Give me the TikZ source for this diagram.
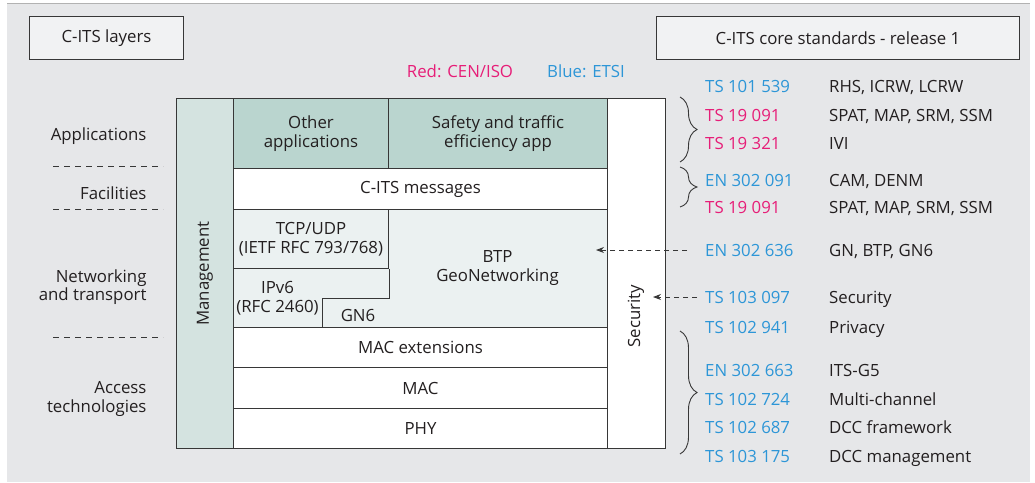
\documentclass[tikz,border=0pt]{standalone}
\usepackage{fontspec}
\setmainfont{Open Sans}
\usetikzlibrary{positioning,decorations.pathreplacing,arrows.meta}
\definecolor{bgc}{RGB}{230,231,233}
\definecolor{hdc}{RGB}{241,242,243}
\definecolor{appc}{RGB}{186,213,207}
\definecolor{mgc}{RGB}{212,227,224}
\definecolor{netc}{RGB}{235,241,241}
\definecolor{redc}{RGB}{230,30,120}
\definecolor{bluec}{RGB}{45,150,215}
\definecolor{linec}{RGB}{55,55,55}
\definecolor{txtc}{RGB}{35,31,32}

\begin{document}
\begin{tikzpicture}[x=1pt,y=-1pt,font=\fontsize{16.8}{18.5}\selectfont,text=txtc,
  box/.style={draw=linec,line width=1pt,anchor=north west,inner sep=0pt,align=center},
  sep/.style={draw=linec,line width=0.8pt,dash pattern=on 6pt off 5pt},
  code/.style={anchor=west,inner sep=0pt,text height=12pt,text depth=0pt},
  brc/.style={draw=linec,line width=0.9pt,decorate,decoration={brace,amplitude=17pt}},
  ptr/.style={draw=linec,line width=0.9pt,dash pattern=on 5pt off 4pt,-{Stealth[length=8pt,width=6pt]}}]

\useasboundingbox (0,0) rectangle (1035,482);
\fill[bgc] (7,3) rectangle (1030,482);
\draw[gray!60] (7,3) -- (1030,3);

% headers
\node[box,fill=hdc,minimum width=154pt,minimum height=43pt] (lyr) at (29,16) {C-ITS layers};
\node[box,fill=hdc,minimum width=363pt,minimum height=43pt] (std) at (656,16) {C-ITS core standards - release 1};
\node[text=redc] (lgred) at (460,71) {Red: CEN/ISO};
\node[text=bluec] (lgblue) at (586,71) {Blue: ETSI};

% layer stack
\node[box,fill=mgc,minimum width=57pt,minimum height=350pt] (mgmt) at (176,98) {};
\node[rotate=90] (mgmtt) at (mgmt.center) {Management};
\node[box,fill=white,minimum width=58pt,minimum height=350pt] (sec) at (607,98) {};
\node[rotate=90] (sect) at (636,316) {Security};
\node[box,fill=appc,minimum width=155pt,minimum height=70pt] (other) at (233,98) {Other\\applications};
\node[box,fill=appc,minimum width=219pt,minimum height=70pt] (safe) at (388,98) {Safety and traffic\\efficiency app};
\node[box,fill=white,minimum width=374pt,minimum height=41pt] (msg) at (233,168) {C-ITS messages};
\node[box,fill=netc,minimum width=374pt,minimum height=118pt] (net) at (233,209) {};
\node[box,minimum width=155pt,minimum height=59pt] (tcp) at (233,209) {TCP/UDP\\(IETF RFC 793/768)};
\node[box,draw=none,minimum width=88pt,minimum height=59pt] (ipv) at (233,268) {IPv6\\(RFC 2460)};
\draw[draw=linec,line width=1pt] (tcp.south east) -- ++(0,29) -| (ipv.south east);
\node (gn6) at (358,315) {GN6};
\node[align=center] (btp) at (497.5,268) {BTP\\GeoNetworking};
\node[box,fill=white,minimum width=374pt,minimum height=40pt] (macx) at (233,327) {MAC extensions};
\node[box,fill=white,minimum width=374pt,minimum height=41pt] (mac) at (233,367) {MAC};
\node[box,fill=white,minimum width=374pt,minimum height=40pt] (phy) at (233,408) {PHY};

% layer names
\node[anchor=east,align=right] (lapp) at (150,136) {Applications};
\node[anchor=east,align=right] (lfac) at (150,193) {Facilities};
\node[anchor=east,align=right] (lnet) at (150,287) {Networking\\and transport};
\node[anchor=east,align=right] (lacc) at (150,399) {Access\\technologies};
\draw[sep] (53,166) -- (163,166);
\draw[sep] (53,209) -- (163,209);
\draw[sep] (53,337) -- (163,337);

% standards
\node[code,text=bluec] (c1) at (705,86) {TS 101 539};
\node[code] (d1) at (829,86) {RHS, ICRW, LCRW};
\node[code,text=redc] (c2) at (705,115) {TS 19 091};
\node[code] (d2) at (829,115) {SPAT, MAP, SRM, SSM};
\node[code,text=redc] (c3) at (705,143) {TS 19 321};
\node[code] (d3) at (829,143) {IVI};
\node[code,text=bluec] (c4) at (705,180) {EN 302 091};
\node[code] (d4) at (829,180) {CAM, DENM};
\node[code,text=redc] (c5) at (705,207) {TS 19 091};
\node[code] (d5) at (829,207) {SPAT, MAP, SRM, SSM};
\node[code,text=bluec] (c6) at (705,250) {EN 302 636};
\node[code] (d6) at (829,250) {GN, BTP, GN6};
\node[code,text=bluec] (c7) at (705,297) {TS 103 097};
\node[code] (d7) at (829,297) {Security};
\node[code,text=bluec] (c8) at (705,327) {TS 102 941};
\node[code] (d8) at (829,327) {Privacy};
\node[code,text=bluec] (c9) at (705,370) {EN 302 663};
\node[code] (d9) at (829,370) {ITS-G5};
\node[code,text=bluec] (c10) at (705,399) {TS 102 724};
\node[code] (d10) at (829,399) {Multi-channel};
\node[code,text=bluec] (c11) at (705,427) {TS 102 687};
\node[code] (d11) at (829,427) {DCC framework};
\node[code,text=bluec] (c12) at (705,456) {TS 103 175};
\node[code] (d12) at (829,456) {DCC management};

% braces and pointers
\draw[brc] (680,97) -- (680,162);
\draw[brc] (680,167) -- (680,207);
\draw[brc] (680,331) -- (680,454);
\coordinate (btpin) at (596,250);
\coordinate (secin) at (653,297);
\draw[ptr] ([xshift=-18pt]c6.west) -- (btpin);
\draw[ptr] ([xshift=-8pt]c7.west) -- (secin);
\end{tikzpicture}
\end{document}
